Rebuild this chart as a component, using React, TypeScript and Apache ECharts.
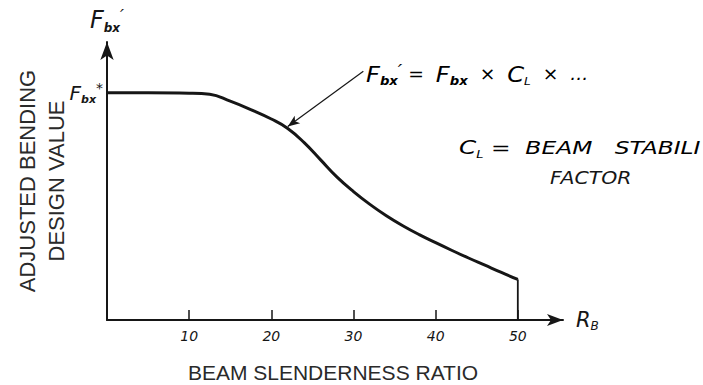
import React, { useEffect, useRef } from "react";
import * as echarts from "echarts";

// Beam slenderness ratio (x) and adjusted bending design value (relative, 0-100)
const slenderness = [0, 5, 10, 12.5, 15, 17.5, 20, 22, 24, 26, 28, 30, 32, 34, 36, 38, 40, 42, 44, 46, 48, 50];
const designValue = [81.7, 81.7, 81.6, 81.2, 78.7, 75.7, 72.3, 68.9, 63.8, 57.6, 51.4, 46.2, 41.6, 37.5, 33.9, 30.7, 27.8, 25.0, 22.3, 19.7, 17.1, 14.6];
const endDrop = [[50, 14.6], [50, 0]];
const xTickValues = [10, 20, 30, 40, 50];
const yTickValues = [81.7];
const arrowFrom = [31.2, 89.5];
const arrowTo = [22.0, 69.6];

const HAND = "DejaVu Sans";

export default function App() {
  const ref = useRef<HTMLDivElement>(null);
  useEffect(() => {
    const chart = echarts.init(ref.current!, null, { renderer: "svg" });
    const ink = "#161616";
    const h = (size: number, extra: any = {}) => ({
      fontFamily: HAND,
      fontStyle: "italic",
      fontSize: size,
      color: ink,
      ...extra,
    });
    const subRich = {
      F: h(22, { lineHeight: 26 }),
      b: h(12, { fontWeight: "bold", lineHeight: 12, verticalAlign: "bottom" }),
      p: h(18, { lineHeight: 14, verticalAlign: "top" }),
      t: h(17, { lineHeight: 26 }),
      l: h(11, { lineHeight: 12, verticalAlign: "bottom" }),
    };
    chart.setOption({
      animation: false,
      backgroundColor: "#ffffff",
      grid: { left: 107, right: 140, top: 42, bottom: 65, outerBoundsMode: "none", containLabel: false },
      xAxis: {
        type: "value",
        min: 0,
        max: 55.5,
        interval: 10,
        name: "{r|R}{b|B}",
        nameLocation: "end",
        nameGap: 13,
        nameTextStyle: {
          rich: {
            r: h(21, { lineHeight: 24 }),
            b: h(12, { lineHeight: 12, verticalAlign: "bottom" }),
          },
        },
        splitLine: { show: false },
        axisLine: { show: true, lineStyle: { color: ink, width: 2 }, symbol: ["none", "arrow"], symbolSize: [9, 16] },
        axisTick: { show: true, inside: true, length: 10, customValues: xTickValues, lineStyle: { color: ink, width: 1.5 } },
        axisLabel: {
          customValues: xTickValues,
          color: ink,
          fontFamily: HAND,
          fontStyle: "italic",
          fontSize: 14,
          margin: 9,
        },
      },
      yAxis: {
        type: "value",
        min: 0,
        max: 100,
        name: "{F|F}{b|bx}{p|′}",
        nameLocation: "end",
        nameGap: 8,
        nameTextStyle: { rich: { F: h(24, { lineHeight: 28 }), b: subRich.b, p: subRich.p } },
        splitLine: { show: false },
        axisLine: { show: true, lineStyle: { color: ink, width: 2 }, symbol: ["none", "arrow"], symbolSize: [10, 18] },
        axisTick: { show: false },
        axisLabel: {
          customValues: yTickValues,
          formatter: () => "{f|F}{b|bx}{s|*}",
          margin: 4,
          rich: {
            f: h(20, { lineHeight: 24 }),
            b: h(11, { fontWeight: "bold", lineHeight: 11, verticalAlign: "bottom" }),
            s: { fontFamily: HAND, fontSize: 14, color: ink, lineHeight: 14, verticalAlign: "top" },
          },
        },
      },
      series: [
        {
          type: "line",
          data: slenderness.map((x, i) => [x, designValue[i]]),
          smooth: 0.45,
          showSymbol: false,
          lineStyle: { color: ink, width: 3 },
          markLine: {
            silent: true,
            symbol: ["none", "arrow"],
            symbolSize: [7, 12],
            label: { show: false },
            lineStyle: { color: ink, width: 1.2, type: "solid", curveness: -0.08 },
            data: [[{ coord: arrowFrom }, { coord: arrowTo }]],
          },
        },
        {
          type: "line",
          data: endDrop,
          showSymbol: false,
          lineStyle: { color: ink, width: 1.8 },
        },
      ],
      graphic: [
        // y-axis title
        {
          type: "text",
          x: 42,
          y: 181,
          rotation: Math.PI / 2,
          style: {
            text: "ADJUSTED BENDING\nDESIGN VALUE",
            fontFamily: "Liberation Sans",
            fontSize: 22,
            lineHeight: 29,
            fill: "#2a2a2a",
            align: "center",
            verticalAlign: "middle",
          },
        },
        // x-axis title
        {
          type: "text",
          x: 333,
          y: 372,
          style: {
            text: "BEAM SLENDERNESS RATIO",
            fontFamily: "Liberation Sans",
            fontSize: 21,
            fill: "#2a2a2a",
            align: "center",
            verticalAlign: "middle",
          },
        },
        // formula
        {
          type: "text",
          x: 366,
          y: 74,
          scaleX: 1.1,
          style: {
            text: "{F|F}{b|bx}{p|′}{t| =  }{F|F}{b|bx}{t|  ×  }{F|C}{l|L}{t|  ×  ...}",
            verticalAlign: "middle",
            rich: subRich,
          },
        },
        // C_L definition
        {
          type: "text",
          x: 459,
          y: 148,
          scaleX: 1.3,
          style: {
            text: "{F|C}{l|L}{t| =  BEAM   STABILI}",
            verticalAlign: "middle",
            rich: { F: h(19, { lineHeight: 24 }), l: h(10, { lineHeight: 12, verticalAlign: "bottom" }), t: h(18, { lineHeight: 24 }) },
          },
        },
        {
          type: "text",
          x: 550,
          y: 178,
          scaleX: 1.2,
          style: {
            text: "FACTOR",
            fontFamily: HAND,
            fontStyle: "italic",
            fontSize: 17,
            fill: ink,
            verticalAlign: "middle",
          },
        },
      ],
    });
    return () => chart.dispose();
  }, []);
  return <div ref={ref} style={{ position: "fixed", left: 0, top: 0, width: 703, height: 385 }} />;
}
